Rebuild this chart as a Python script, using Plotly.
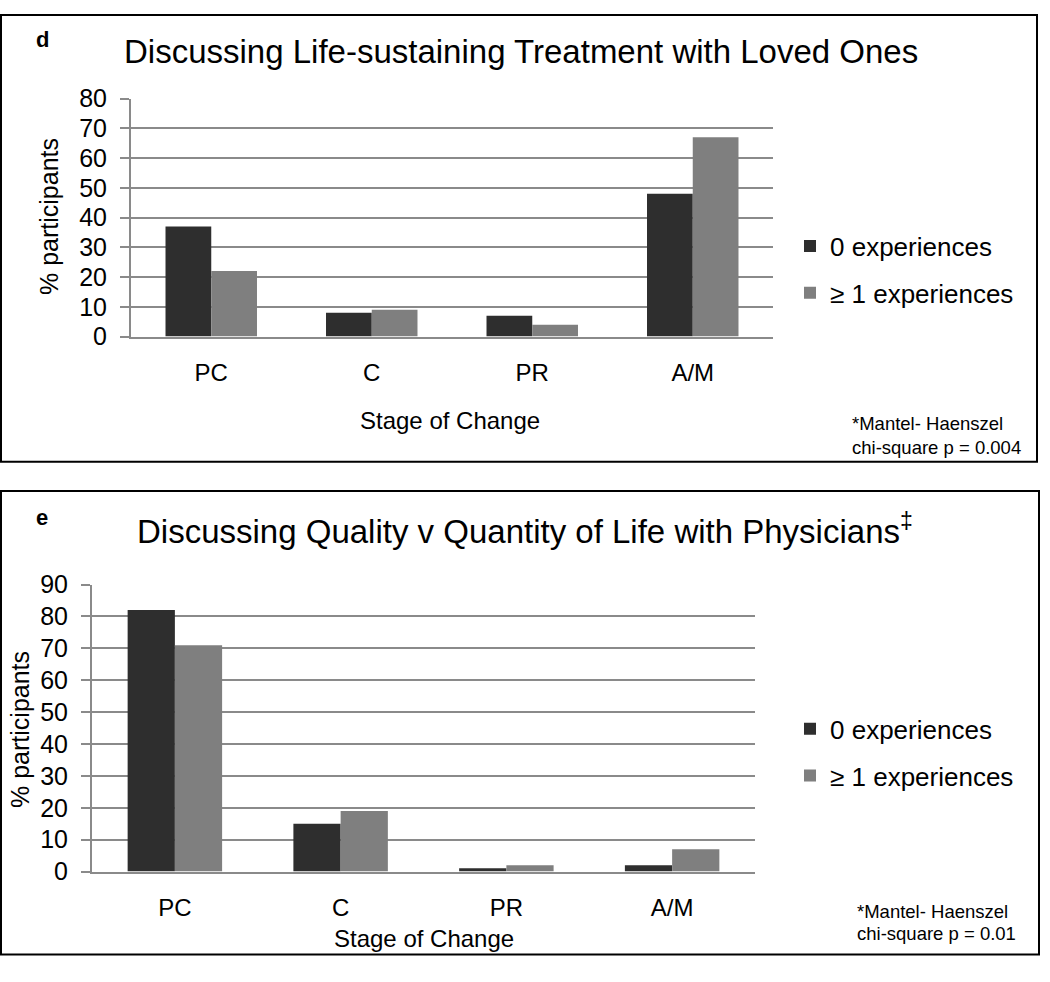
import plotly.graph_objects as go

W, H = 1050, 982

categories = ["PC", "C", "PR", "A/M"]
series_names = ["0 experiences", "\u2265 1 experiences"]

# Panel d: Discussing Life-sustaining Treatment with Loved Ones
d_zero = [37, 8, 7, 48]
d_one = [22, 9, 4, 67]

# Panel e: Discussing Quality v Quantity of Life with Physicians
e_zero = [82, 15, 1, 2]
e_one = [71, 19, 2, 7]

d_yticks = [0, 10, 20, 30, 40, 50, 60, 70, 80]
e_yticks = [0, 10, 20, 30, 40, 50, 60, 70, 80, 90]

colors = ["#2e2e2e", "#7f7f7f"]
FONT = "Arial, Liberation Sans, sans-serif"
GRID = "#8a8a8a"


def px(x):
    return x / W


def py(y):
    return 1 - y / H


fig = go.Figure()

for i, (vals, name) in enumerate(zip([d_zero, d_one], series_names)):
    fig.add_trace(go.Bar(x=categories, y=vals, name=name, marker_color=colors[i],
                         marker_line_width=0, xaxis="x", yaxis="y",
                         legend="legend", legendgroup="d%d" % i))
for i, (vals, name) in enumerate(zip([e_zero, e_one], series_names)):
    fig.add_trace(go.Bar(x=categories, y=vals, name=name, marker_color=colors[i],
                         marker_line_width=0, xaxis="x2", yaxis="y2",
                         legend="legend2", legendgroup="e%d" % i))

xcommon = dict(showgrid=False, showline=True, linecolor=GRID, linewidth=2,
               ticks="", tickfont=dict(size=24, color="black", family=FONT),
               ticklabelstandoff=14, fixedrange=True)
ycommon = dict(showgrid=True, gridcolor=GRID, gridwidth=2, showline=True,
               linecolor=GRID, linewidth=2, ticks="outside", ticklen=9,
               tickcolor=GRID, tickwidth=2, zeroline=False,
               tickfont=dict(size=25, color="black", family=FONT),
               ticklabelstandoff=8, fixedrange=True)

legend_common = dict(font=dict(size=26, color="black", family=FONT),
                     bgcolor="rgba(0,0,0,0)", tracegroupgap=10,
                     xanchor="left", yanchor="middle", itemclick=False)

fig.update_layout(
    width=W, height=H,
    margin=dict(l=0, r=0, t=0, b=0),
    paper_bgcolor="white", plot_bgcolor="white",
    barmode="group", bargap=0.43, bargroupgap=0,
    font=dict(family=FONT, color="black"),
    xaxis=dict(domain=[px(131), px(773)], anchor="y", **xcommon),
    yaxis=dict(domain=[py(332), py(87)], anchor="x", range=[0, 80],
               tickvals=d_yticks, **ycommon),
    xaxis2=dict(domain=[px(92), px(755)], anchor="y2", **xcommon),
    yaxis2=dict(domain=[py(882.7), py(587.3)], anchor="x2", range=[0, 90],
                tickvals=e_yticks, **ycommon),
    legend=dict(x=px(790), y=py(263), **legend_common),
    legend2=dict(x=px(790), y=py(760), **legend_common),
    showlegend=True,
)

ann = [
    dict(text="<b>d</b>", x=px(42), y=py(26), font=dict(size=22)),
    dict(text="<b>e</b>", x=px(42), y=py(518), font=dict(size=22)),
    dict(text="Discussing Life-sustaining Treatment with Loved Ones", x=px(521), y=py(39),
         font=dict(size=33)),
    dict(text="Discussing Quality v Quantity of Life with Physicians<sup>\u2021</sup>",
         x=px(525), y=py(530), font=dict(size=33)),
    dict(text="% participants", x=px(49), y=py(209), textangle=-90, font=dict(size=25)),
    dict(text="% participants", x=px(20), y=py(737), textangle=-90, font=dict(size=25)),
    dict(text="Stage of Change", x=px(450), y=py(418), font=dict(size=24)),
    dict(text="Stage of Change", x=px(424), y=py(952), font=dict(size=24)),
    dict(text="*Mantel- Haenszel", x=px(850), y=py(422), xanchor="left", font=dict(size=18.5)),
    dict(text="chi-square p = 0.004", x=px(850), y=py(446), xanchor="left", font=dict(size=18.5)),
    dict(text="*Mantel- Haenszel", x=px(855), y=py(924), xanchor="left", font=dict(size=18.5)),
    dict(text="chi-square p = 0.01", x=px(855), y=py(947), xanchor="left", font=dict(size=18.5)),
]
for a in ann:
    a.setdefault("xanchor", "center")
    a.update(xref="paper", yref="paper", yanchor="middle", showarrow=False)
    a["font"] = dict(family=FONT, color="black", **a["font"])
fig.update_layout(annotations=ann)

fig.update_layout(shapes=[
    dict(type="rect", xref="paper", yref="paper", x0=px(1), y0=py(1), x1=px(1037), y1=py(461),
         line=dict(color="black", width=2)),
    dict(type="rect", xref="paper", yref="paper", x0=px(1), y0=py(491), x1=px(1039), y1=py(968),
         line=dict(color="black", width=2)),
])

post = (
    "document.documentElement.style.margin='0';"
    "document.body.style.margin='0';"
    "document.body.style.overflow='hidden';"
)
fig.write_html("out.html", config={"displayModeBar": False}, post_script=post)
